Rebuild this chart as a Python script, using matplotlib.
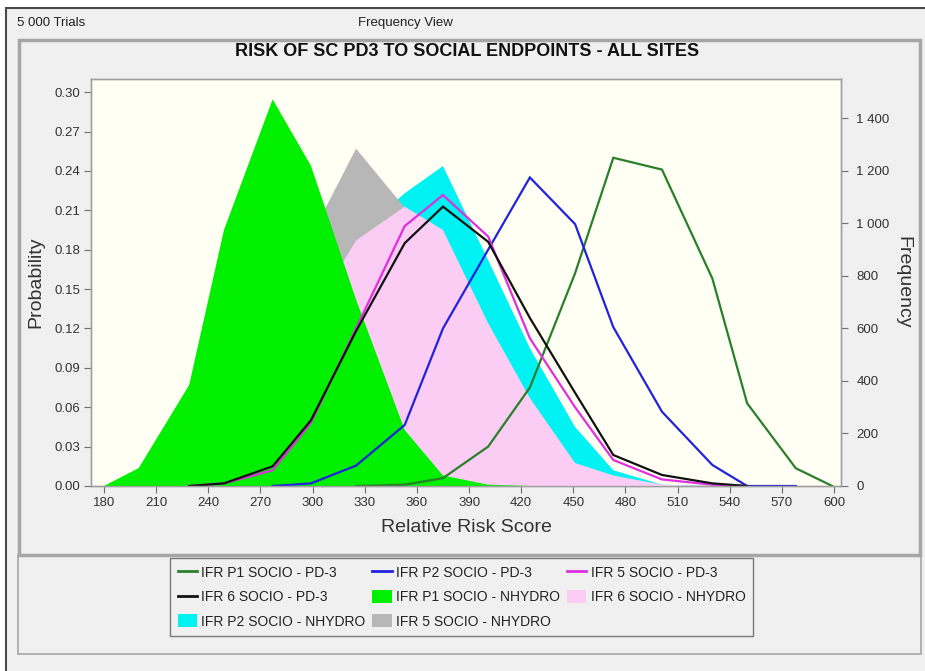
import numpy as np
import matplotlib
matplotlib.use("Agg")
import matplotlib.pyplot as plt
from matplotlib.patches import Rectangle, Patch
from matplotlib.lines import Line2D
from matplotlib.ticker import FuncFormatter

plt.rcParams['font.family'] = ['Liberation Sans', 'DejaVu Sans']

# ---------------- data ----------------
nan = np.nan
risk_score = [180, 200, 229, 249, 277, 299, 325, 353, 375, 401, 425, 451, 473, 501, 530, 550, 578, 599]

p1_pd3 =    [nan, nan, nan, nan, nan, nan, 0.0, 0.001, 0.006, 0.030, 0.075, 0.162, 0.250, 0.241, 0.158, 0.063, 0.0135, 0.0]
p2_pd3 =    [nan, nan, nan, nan, 0.0, 0.002, 0.0155, 0.0465, 0.120, 0.180, 0.235, 0.1995, 0.121, 0.0566, 0.016, 0.0, 0.0, nan]
ifr5_pd3 =  [nan, nan, 0.0, 0.002, 0.012, 0.048, 0.120, 0.198, 0.2216, 0.190, 0.1125, 0.060, 0.0198, 0.005, 0.001, 0.0, nan, nan]
ifr6_pd3 =  [nan, nan, 0.0, 0.002, 0.015, 0.050, 0.118, 0.185, 0.2128, 0.186, 0.128, 0.071, 0.0236, 0.0084, 0.002, 0.0, nan, nan]

p1_nhydro = [0.0, 0.0137, 0.077, 0.195, 0.2945, 0.244, 0.142, 0.0426, 0.008, 0.001, 0.0, nan, nan, nan, nan, nan, nan, nan]
ifr6_nhydro = [nan, nan, 0.0, 0.010, 0.060, 0.130, 0.187, 0.2128, 0.195, 0.124, 0.067, 0.0175, 0.008, 0.001, 0.0, nan, nan, nan]
p2_nhydro = [nan, nan, nan, 0.003, 0.030, 0.100, 0.190, 0.223, 0.2437, 0.172, 0.105, 0.045, 0.012, 0.001, 0.0, nan, nan, nan]
ifr5_nhydro = [nan, nan, 0.0, 0.010, 0.080, 0.190, 0.257, 0.212, 0.150, 0.080, 0.030, 0.005, 0.0, nan, nan, nan, nan, nan]

n_trials = 5000
x_ticks = list(range(180, 601, 30))
prob_ticks = [0.00, 0.03, 0.06, 0.09, 0.12, 0.15, 0.18, 0.21, 0.24, 0.27, 0.30]
freq_ticks = [0, 200, 400, 600, 800, 1000, 1200, 1400]

# ---------------- figure ----------------
W, H = 925, 671
fig = plt.figure(figsize=(W / 100, H / 100), dpi=100)
fig.patch.set_facecolor('white')

def fx(px):
    return px / W

def fy(py):
    return 1 - py / H

# window background
fig.add_artist(Rectangle((fx(6), -0.02), 1.05, fy(8) + 0.02, transform=fig.transFigure,
                         facecolor='#f0f0f0', edgecolor='#4a4a4a', lw=1.5, zorder=-10))
# chart panel border
fig.add_artist(Rectangle((fx(18.5), fy(555)), fx(920) - fx(18.5), fy(40) - fy(555),
                         transform=fig.transFigure, fill=False, edgecolor='#a6a6a6', lw=2.5, zorder=-5))
# legend panel border
fig.add_artist(Rectangle((fx(18), fy(654)), fx(921) - fx(18), fy(555) - fy(654),
                         transform=fig.transFigure, fill=False, edgecolor='#a6a6a6', lw=1.2, zorder=-5))

fig.text(fx(17), fy(23), "5 000 Trials", fontsize=9.5, color='#222222', va='center', ha='left')
fig.text(fx(405), fy(23), "Frequency View", fontsize=9.5, color='#222222', va='center', ha='center')
fig.text(fx(467), fy(52), "RISK OF SC PD3 TO SOCIAL ENDPOINTS - ALL SITES", fontsize=13,
         fontweight='bold', color='#111111', va='center', ha='center')

ax = fig.add_axes([fx(91), fy(486), fx(841) - fx(91), fy(79) - fy(486)])
ax.set_facecolor('#fffff3')

x = np.array(risk_score, dtype=float)

def fill(series, color, z):
    y = np.array(series, dtype=float)
    m = ~np.isnan(y)
    ax.fill_between(x[m], 0, y[m], facecolor=color, edgecolor='none', lw=0, zorder=z)

fill(p2_nhydro, '#00f2f2', 1)
fill(ifr5_nhydro, '#b7b7b7', 2)
fill(ifr6_nhydro, '#fbcdf4', 3)
fill(p1_nhydro, '#00f000', 4)

def line(series, color, z):
    y = np.array(series, dtype=float)
    m = ~np.isnan(y)
    ax.plot(x[m], y[m], color=color, lw=1.6, zorder=z, solid_joinstyle='miter')

line(p1_pd3, '#2a7f2a', 5)
line(p2_pd3, '#2222dd', 6)
line(ifr5_pd3, '#e02ee0', 7)
line(ifr6_pd3, '#111111', 8)

ax.set_xlim(172.5, 604)
ax.set_ylim(0, 0.31)
ax.set_xticks(x_ticks)
ax.set_yticks(prob_ticks)
ax.yaxis.set_major_formatter(FuncFormatter(lambda v, p: f"{v:.2f}"))
for s in ax.spines.values():
    s.set_color('#a0a0a0')
    s.set_linewidth(1.0)
ax.tick_params(axis='both', colors='#707070', labelcolor='#333333', labelsize=9.5, length=5, width=0.8, pad=3)
ax.set_xlabel("Relative Risk Score", fontsize=14, color='#333333', labelpad=7)
ax.set_ylabel("Probability", fontsize=14, color='#333333', labelpad=7)

ax2 = ax.twinx()
ax2.set_ylim(0, 0.31 * n_trials)
ax2.set_yticks(freq_ticks)
ax2.yaxis.set_major_formatter(FuncFormatter(lambda v, p: f"{int(v):,}".replace(",", " ")))
for s in ax2.spines.values():
    s.set_color('#a0a0a0')
    s.set_linewidth(1.0)
ax2.tick_params(axis='y', colors='#707070', labelcolor='#333333', labelsize=9.5, length=5, width=0.8, pad=6)
ax2.set_ylabel("Frequency", fontsize=14, color='#333333', rotation=270, labelpad=16)

# legend
h_p1 = Line2D([], [], color='#2a7f2a', lw=2)
h_p2 = Line2D([], [], color='#2222dd', lw=2)
h_5 = Line2D([], [], color='#e02ee0', lw=2)
h_6 = Line2D([], [], color='#111111', lw=2)
h_p1n = Patch(facecolor='#00f000', edgecolor='none')
h_6n = Patch(facecolor='#fbcdf4', edgecolor='none')
h_p2n = Patch(facecolor='#00f2f2', edgecolor='none')
h_5n = Patch(facecolor='#b7b7b7', edgecolor='none')

handles = [h_p1, h_6, h_p2n, h_p2, h_p1n, h_5n, h_5, h_6n]
labels = ["IFR P1 SOCIO - PD-3", "IFR 6 SOCIO - PD-3", "IFR P2 SOCIO - NHYDRO",
          "IFR P2 SOCIO - PD-3", "IFR P1 SOCIO - NHYDRO", "IFR 5 SOCIO - NHYDRO",
          "IFR 5 SOCIO - PD-3", "IFR 6 SOCIO - NHYDRO"]
leg = fig.legend(handles, labels, ncol=3, loc='upper left', bbox_to_anchor=(fx(170), fy(558)),
                 frameon=True, fancybox=False, edgecolor='#7a7a7a', facecolor='#f0f0f0',
                 framealpha=1, fontsize=10, handlelength=1.4, handleheight=1.1, handletextpad=0.3,
                 columnspacing=0.5, labelspacing=0.71, borderpad=0.55, borderaxespad=0)
for t in leg.get_texts():
    t.set_color('#222222')

fig.savefig("out.png", dpi=100, facecolor=fig.get_facecolor())
